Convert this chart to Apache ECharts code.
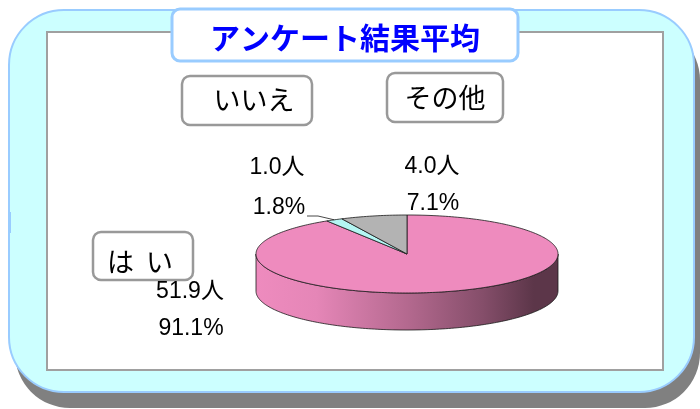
<!DOCTYPE html>
<html>
<head>
<meta charset="utf-8">
<script src="https://cdn.jsdelivr.net/npm/echarts@6/dist/echarts.min.js"></script>
<style>
  html, body { margin: 0; padding: 0; background: #fff; }
  #chart { width: 700px; height: 409px; }
</style>
</head>
<body>
<div id="chart"></div>
<script>
const title = 'アンケート結果平均';
const categories = ['はい', 'いいえ', 'その他'];
const people = [51.9, 1.0, 4.0];
const percents = [91.1, 1.8, 7.1];
const sliceColors = ['#EE8BBE', '#B4F6F3', '#B3B3B3'];
const sideDark = ['#5C3649', '#4E6A69', '#4D4D4D'];

// 3d pie layout (screen px)
const pie = { cx: 407, cy: 254, rx: 151, ry: 39, depth: 37 };
const total = percents.reduce((a, b) => a + b, 0);

function pt(t, dy) {
  return [pie.cx + pie.rx * Math.sin(t), pie.cy - pie.ry * Math.cos(t) + (dy || 0)];
}
function arc(a, b, dy) {
  const pts = [];
  const n = Math.max(2, Math.ceil(Math.abs(b - a) / 0.02));
  for (let i = 0; i <= n; i++) pts.push(pt(a + (b - a) * i / n, dy));
  return pts;
}
function angles(i, v) {
  let s = 0;
  for (let k = 0; k < i; k++) s += percents[k];
  return [s / total * 2 * Math.PI, (s + v) / total * 2 * Math.PI];
}

const chart = echarts.init(document.getElementById('chart'));

const jp = '"Noto Sans CJK JP", sans-serif';
const num = '"Liberation Sans", "Noto Sans CJK JP", sans-serif';

function box(x, y, w, h, stroke, lw) {
  return { type: 'rect', z: 1, shape: { x: x, y: y, width: w, height: h, r: 8 },
    style: { fill: '#fff', stroke: stroke, lineWidth: lw } };
}
function text(x, y, str, font, fill) {
  return { type: 'text', z: 50, x: x, y: y,
    style: { text: str, font: font, fill: fill || '#000', align: 'center', verticalAlign: 'middle' } };
}

// label layout: [x, y] of the people line and the percent line
const labelPos = [[[190, 292], [191, 329]], [[277, 168], [279, 208]], [[432, 167], [433, 204]]];
const catBoxes = [[93, 232, 100, 48, 140, 262], [182, 76, 130, 49, 254, 100], [387, 73, 116, 49, 445, 98]];

const graphics = [
  { type: 'rect', z: 0, shape: { x: 15, y: 25, width: 685, height: 383, r: 55 }, style: { fill: '#808080' } },
  { type: 'rect', z: 0, shape: { x: 9, y: 10, width: 685, height: 382, r: 55 },
    style: { fill: '#CCFFFF', stroke: '#99CCFF', lineWidth: 2 } },
  { type: 'rect', z: 0, shape: { x: 8, y: 212, width: 3, height: 21 }, style: { fill: '#99CCFF' } },
  { type: 'rect', z: 0, shape: { x: 47, y: 32, width: 616, height: 338 },
    style: { fill: '#fff', stroke: '#A0A0A0', lineWidth: 2 } },
  box(172, 9, 346, 52, '#99CCFF', 3),
  text(345, 38, title, 'bold 30px ' + jp, '#0000FF')
];
categories.forEach((c, i) => {
  const b = catBoxes[i];
  graphics.push(box(b[0], b[1], b[2], b[3], '#999999', 2.5));
  graphics.push(text(b[4], b[5], c === 'はい' ? 'は  い' : c, '27px ' + jp));
  graphics.push(text(labelPos[i][0][0], labelPos[i][0][1], people[i].toFixed(1) + '人', '23px ' + num));
  graphics.push(text(labelPos[i][1][0], labelPos[i][1][1], percents[i].toFixed(1) + '%', '23px ' + num));
});

chart.setOption({
  animation: false,
  graphic: graphics,
  series: [
    {
      // side walls
      type: 'custom', coordinateSystem: 'none', z: 10, silent: true,
      data: percents,
      renderItem(params, api) {
        const i = params.dataIndex;
        const [a0, b0] = angles(i, api.value(0));
        const a = Math.max(a0, Math.PI / 2), b = Math.min(b0, Math.PI * 1.5);
        if (b <= a) return { type: 'group', children: [] };
        const c = sliceColors[i], d = sideDark[i];
        const points = arc(a, b).concat(arc(b, a, pie.depth));
        return {
          type: 'polygon', shape: { points: points },
          style: {
            fill: new echarts.graphic.LinearGradient(pie.cx - pie.rx, 0, pie.cx + pie.rx, 0, [
              { offset: 0, color: c },
              { offset: 0.2, color: echarts.color.lerp(0.06, [c, d]) },
              { offset: 0.5, color: echarts.color.lerp(0.4, [c, d]) },
              { offset: 0.75, color: echarts.color.lerp(0.72, [c, d]) },
              { offset: 0.92, color: d },
              { offset: 1, color: d }
            ], true),
            stroke: '#1a1a1a', lineWidth: 0.8
          }
        };
      }
    },
    {
      // top faces
      type: 'custom', coordinateSystem: 'none', z: 11, silent: true,
      data: percents,
      renderItem(params, api) {
        const i = params.dataIndex;
        const [a, b] = angles(i, api.value(0));
        const children = [{
          type: 'polygon',
          shape: { points: [[pie.cx, pie.cy]].concat(arc(a, b)) },
          style: { fill: sliceColors[i], stroke: '#1a1a1a', lineWidth: 0.8 }
        }];
        if (categories[i] === 'いいえ') {
          const m = pt((a + b) / 2);
          children.push({
            type: 'polyline',
            shape: { points: [[307, 216], [318, 216], m] },
            style: { stroke: '#1a1a1a', lineWidth: 0.8, fill: null }
          });
        }
        return { type: 'group', children: children };
      }
    }
  ]
});
</script>
</body>
</html>
